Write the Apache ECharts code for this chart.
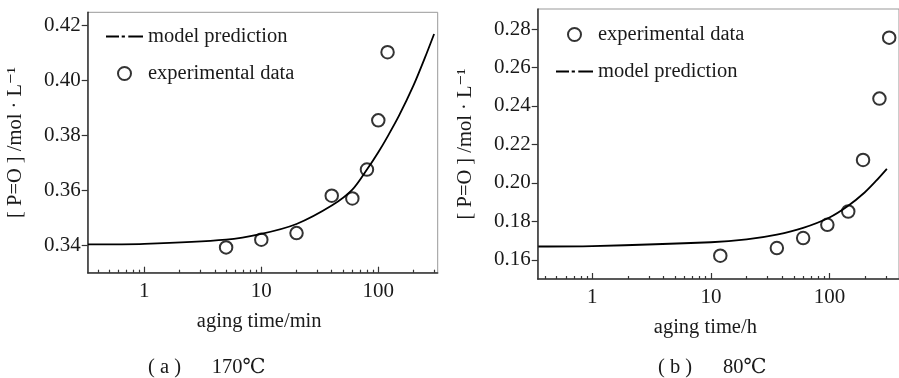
<!DOCTYPE html>
<html>
<head>
<meta charset="utf-8">
<script src="https://cdn.jsdelivr.net/npm/echarts@6/dist/echarts.min.js"></script>
<style>
html,body{margin:0;padding:0;background:#fff;}
#chart{width:899px;height:378px;}
</style>
</head>
<body>
<div id="chart"></div>
<script>
// ---- Panel (a) 170°C ----
const expA_t = [5, 10, 20, 40, 60, 80, 100, 120];
const expA_c = [0.3392, 0.3420, 0.3444, 0.3580, 0.3570, 0.3675, 0.3854, 0.4102];
const modA_t = [0.33, 1, 5, 10, 20, 40, 60, 80, 100, 120, 150, 200, 250, 300];
const modA_c = [0.3403, 0.3405, 0.3420, 0.3441, 0.3477, 0.3544, 0.3602, 0.3675, 0.3738, 0.3795, 0.3870, 0.3981, 0.4081, 0.4168];
const yTicksA = [0.34, 0.36, 0.38, 0.40, 0.42];

// ---- Panel (b) 80°C ----
const expB_t = [12, 36, 60, 96, 144, 192, 264, 319];
const expB_c = [0.1621, 0.1661, 0.1713, 0.1782, 0.1851, 0.2119, 0.2438, 0.2755];
const modB_t = [0.35, 1, 10, 20, 36, 60, 100, 144, 198, 247, 305];
const modB_c = [0.1669, 0.1671, 0.1691, 0.1706, 0.1731, 0.1766, 0.1820, 0.1881, 0.1950, 0.2010, 0.2073];
const yTicksB = [0.16, 0.18, 0.20, 0.22, 0.24, 0.26, 0.28];

const xMajor = [1, 10, 100];
const xMinor = [0.4,0.5,0.6,0.7,0.8,0.9, 2,3,4,5,6,7,8,9, 20,30,40,50,60,70,80,90, 200,300];

const SERIF = '"Liberation Serif", "Times New Roman", "DejaVu Serif", serif';
const TXT = '#1a1a1a';

function pairs(xs, ys){ return xs.map((x,i)=>[x, ys[i]]); }

function xAxes(gridIndex, min, max, name, namePad){
  return [{
    type: 'log', gridIndex, min, max, logBase: 10,
    name, nameLocation: 'middle', nameGap: 38,
    nameTextStyle: {fontFamily: SERIF, fontSize: 20.5, color: TXT, padding: namePad},
    axisLine: {lineStyle: {color: '#333', width: 1.5}},
    axisTick: {inside: true, length: 6, customValues: xMajor, lineStyle: {color: '#333', width: 1.2}},
    axisLabel: {customValues: xMajor, margin: 8, fontFamily: SERIF, fontSize: 21, color: TXT,
      formatter: v => String(Math.round(v))},
    splitLine: {show: false}, minorTick: {show: false}
  },{
    type: 'log', gridIndex, min, max, logBase: 10, position: 'bottom',
    axisLine: {show: false},
    axisTick: {inside: true, length: 3, customValues: xMinor, lineStyle: {color: '#333', width: 1.2}},
    axisLabel: {show: false},
    splitLine: {show: false}
  }];
}
function yAxis(gridIndex, min, max, ticks){
  return {
    type: 'value', gridIndex, min, max,
    name: '[ P=O ] /mol · L⁻¹', nameLocation: 'middle', nameGap: 62,
    nameTextStyle: {fontFamily: SERIF, fontSize: 20.5, color: TXT},
    axisLine: {show: true, lineStyle: {color: '#333', width: 1.5}},
    axisTick: {show: true, inside: false, length: 6, customValues: ticks, lineStyle: {color: '#333', width: 1.2}},
    axisLabel: {customValues: ticks, margin: 7, fontFamily: SERIF, fontSize: 21, color: TXT,
      formatter: v => v.toFixed(2)},
    splitLine: {show: false}
  };
}

const dashDot = 'path://M0,0h13v2h-13zM15.7,0h3.2v2h-3.2zM22.3,0h14.7v2h-14.7z';
const legendText = {fontFamily: SERIF, fontSize: 20.5, color: TXT};
const circleStyle = {color: '#000', borderColor: '#000', borderWidth: 1.8};

const chart = echarts.init(document.getElementById('chart'), null, {renderer: 'canvas'});
chart.setOption({
  backgroundColor: '#fff',
  animation: false,
  title: [
    {text: '( a )      170℃', left: 143, top: 352,
     textStyle: {fontFamily: SERIF, fontSize: 20.5, fontWeight: 'normal', color: TXT}},
    {text: '( b )      80℃', left: 653, top: 352,
     textStyle: {fontFamily: SERIF, fontSize: 20.5, fontWeight: 'normal', color: TXT}}
  ],
  grid: [
    {left: 87.7, top: 12.3, right: 461.3, bottom: 105.3, show: true, borderColor: '#999', borderWidth: 1},
    {left: 537.7, top: 9, right: -6, bottom: 99, show: true, borderColor: '#999', borderWidth: 1}
  ],
  legend: [
    {orient: 'vertical', left: 101, top: 21, itemWidth: 37, itemHeight: 13, itemGap: 16,
     textStyle: legendText, selectedMode: false,
     data: [{name: 'model prediction', icon: dashDot}, {name: 'experimental data', icon: 'emptyCircle'}]},
    {orient: 'vertical', left: 551, top: 19, itemWidth: 37, itemHeight: 13, itemGap: 16,
     textStyle: legendText, selectedMode: false,
     data: [{name: 'experimental data', icon: 'emptyCircle'}, {name: 'model prediction', icon: dashDot}]}
  ],
  xAxis: [
    ...xAxes(0, 0.328, 322, 'aging time/min', [0, 7, 0, 0]),
    ...xAxes(1, 0.346, 386, 'aging time/h', [0, 26, 0, 0])
  ],
  yAxis: [
    yAxis(0, 0.330, 0.4247, yTicksA),
    yAxis(1, 0.150, 0.2904, yTicksB)
  ],
  series: [
    {name: 'model prediction', type: 'line', xAxisIndex: 0, yAxisIndex: 0,
     data: pairs(modA_t, modA_c), showSymbol: false, symbol: 'none', smooth: 0.3,
     color: '#000', lineStyle: {color: '#000', width: 1.8}},
    {name: 'experimental data', type: 'scatter', xAxisIndex: 0, yAxisIndex: 0,
     data: pairs(expA_t, expA_c), symbol: 'emptyCircle', symbolSize: 12.5,
     color: '#000', itemStyle: circleStyle},
    {name: 'model prediction', type: 'line', xAxisIndex: 2, yAxisIndex: 1,
     data: pairs(modB_t, modB_c), showSymbol: false, symbol: 'none', smooth: 0.3,
     color: '#000', lineStyle: {color: '#000', width: 1.8}},
    {name: 'experimental data', type: 'scatter', xAxisIndex: 2, yAxisIndex: 1,
     data: pairs(expB_t, expB_c), symbol: 'emptyCircle', symbolSize: 12.5, clip: false,
     color: '#000', itemStyle: circleStyle}
  ]
});
</script>
</body>
</html>
